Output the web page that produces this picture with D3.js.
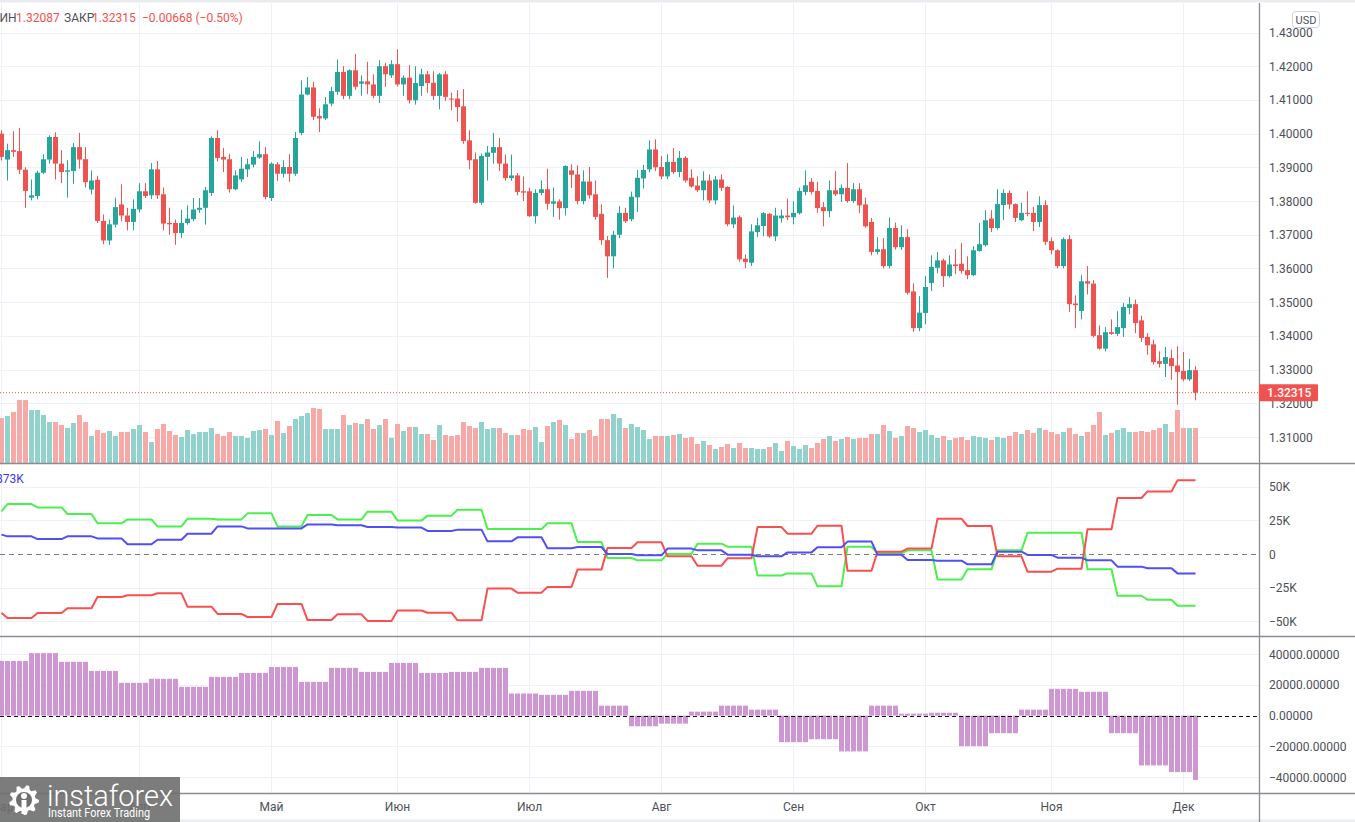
<!DOCTYPE html>
<html><head><meta charset="utf-8">
<script src="https://cdn.jsdelivr.net/npm/d3@7"></script>
<style>body{margin:0;background:#fff;overflow:hidden}svg{display:block}text{font-family:Roboto,"Liberation Sans",sans-serif}</style>
</head><body><svg id="c" width="1355" height="822"></svg>
<script>
// ---------- DATA (GBP/USD daily, 1 Mar – 3 Dec 2021) ----------
const opens=[1.4000,1.3923,1.3951,1.3948,1.3893,1.3810,1.3815,1.3884,1.3923,1.3990,
1.3911,1.3887,1.3889,1.3960,1.3924,1.3834,1.3863,1.3741,1.3683,1.3730,
1.3790,1.3757,1.3738,1.3775,1.3829,1.3817,1.3894,1.3820,1.3735,1.3735,
1.3705,1.3735,1.3746,1.3774,1.3780,1.3824,1.3987,1.3931,1.3924,1.3835,
1.3864,1.3894,1.3908,1.3929,1.3939,1.3809,1.3909,1.3881,1.3901,1.3881,
1.4002,1.4116,1.4137,1.4052,1.4045,1.4089,1.4124,1.4183,1.4112,1.4188,
1.4148,1.4155,1.4146,1.4112,1.4200,1.4173,1.4206,1.4146,1.4166,1.4099,
1.4141,1.4176,1.4151,1.4112,1.4176,1.4104,1.4104,1.4081,1.3980,1.3924,
1.3795,1.3931,1.3943,1.3960,1.3911,1.3868,1.3876,1.3829,1.3829,1.3755,
1.3824,1.3835,1.3792,1.3799,1.3779,1.3891,1.3879,1.3800,1.3858,1.3820,
1.3762,1.3684,1.3636,1.3700,1.3765,1.3746,1.3811,1.3867,1.3894,1.3953,
1.3901,1.3873,1.3916,1.3886,1.3928,1.3869,1.3846,1.3832,1.3861,1.3802,
1.3864,1.3842,1.3731,1.3752,1.3629,1.3617,1.3708,1.3726,1.3762,1.3695,
1.3749,1.3757,1.3752,1.3764,1.3827,1.3857,1.3830,1.3782,1.3770,1.3832,
1.3820,1.3839,1.3800,1.3835,1.3790,1.3738,1.3649,1.3657,1.3607,1.3720,
1.3663,1.3693,1.3532,1.3423,1.3468,1.3557,1.3602,1.3624,1.3577,1.3612,
1.3614,1.3595,1.3580,1.3652,1.3669,1.3748,1.3720,1.3788,1.3824,1.3791,
1.3743,1.3765,1.3765,1.3738,1.3788,1.3681,1.3654,1.3607,1.3687,1.3496,
1.3474,1.3562,1.3555,1.3402,1.3362,1.3411,1.3406,1.3423,1.3483,1.3494,
1.3446,1.3397,1.3375,1.3325,1.3317,1.3334,1.3312,1.3296,1.3271,1.32983];
const highs=[1.4010,1.3970,1.4007,1.4017,1.3900,1.3864,1.3890,1.3939,1.3995,1.4004,
1.3951,1.3921,1.3972,1.4002,1.3960,1.3891,1.3875,1.3760,1.3745,1.3810,
1.3850,1.3780,1.3805,1.3853,1.3853,1.3913,1.3919,1.3840,1.3780,1.3745,
1.3774,1.3787,1.3809,1.3809,1.3842,1.3992,1.4010,1.3957,1.3940,1.3891,
1.3931,1.3926,1.3948,1.3977,1.3960,1.3915,1.3915,1.3921,1.3939,1.4005,
1.4158,1.4168,1.4154,1.4075,1.4109,1.4139,1.4220,1.4200,1.4191,1.4236,
1.4173,1.4213,1.4176,1.4218,1.4210,1.4218,1.4250,1.4173,1.4203,1.4200,
1.4193,1.4186,1.4185,1.4180,1.4185,1.4122,1.4129,1.4132,1.4010,1.3944,
1.3941,1.3963,1.4002,1.3987,1.3938,1.3938,1.3883,1.3873,1.3840,1.3835,
1.3861,1.3896,1.3840,1.3805,1.3906,1.3909,1.3906,1.3891,1.3901,1.3861,
1.3790,1.3696,1.3712,1.3785,1.3780,1.3828,1.3892,1.3907,1.3980,1.3983,
1.3933,1.3939,1.3957,1.3948,1.3933,1.3894,1.3873,1.3888,1.3879,1.3874,
1.3879,1.3844,1.3787,1.3757,1.3642,1.3731,1.3750,1.3767,1.3765,1.3780,
1.3774,1.3807,1.3799,1.3840,1.3891,1.3868,1.3857,1.3797,1.3861,1.3889,
1.3849,1.3913,1.3853,1.3853,1.3810,1.3750,1.3693,1.3690,1.3751,1.3736,
1.3728,1.3716,1.3556,1.3518,1.3577,1.3639,1.3649,1.3629,1.3639,1.3657,
1.3676,1.3636,1.3666,1.3735,1.3773,1.3773,1.3835,1.3835,1.3832,1.3793,
1.3795,1.3829,1.3783,1.3814,1.3802,1.3692,1.3657,1.3692,1.3699,1.3520,
1.3580,1.3607,1.3565,1.3431,1.3426,1.3449,1.3473,1.3498,1.3515,1.3508,
1.3460,1.3408,1.3389,1.3354,1.3367,1.3359,1.3369,1.3352,1.3332,1.3310];
const lows=[1.3920,1.3861,1.3931,1.3880,1.3780,1.3802,1.3805,1.3880,1.3911,1.3864,
1.3853,1.3810,1.3851,1.3896,1.3840,1.3820,1.3735,1.3672,1.3670,1.3722,
1.3740,1.3713,1.3713,1.3766,1.3809,1.3806,1.3806,1.3713,1.3700,1.3670,
1.3690,1.3730,1.3740,1.3765,1.3730,1.3815,1.3918,1.3886,1.3825,1.3832,
1.3856,1.3871,1.3900,1.3925,1.3805,1.3800,1.3860,1.3870,1.3857,1.3875,
1.3995,1.4114,1.4040,1.4005,1.4040,1.4081,1.4115,1.4102,1.4102,1.4130,
1.4112,1.4117,1.4105,1.4091,1.4139,1.4165,1.4140,1.4112,1.4089,1.4086,
1.4112,1.4121,1.4100,1.4072,1.4097,1.4069,1.4035,1.3970,1.3894,1.3792,
1.3789,1.3861,1.3911,1.3889,1.3860,1.3860,1.3817,1.3800,1.3753,1.3733,
1.3817,1.3774,1.3753,1.3745,1.3757,1.3839,1.3790,1.3790,1.3807,1.3745,
1.3670,1.3572,1.3600,1.3690,1.3735,1.3740,1.3767,1.3837,1.3885,1.3889,
1.3865,1.3865,1.3880,1.3871,1.3855,1.3840,1.3827,1.3802,1.3794,1.3790,
1.3830,1.3725,1.3720,1.3620,1.3601,1.3607,1.3693,1.3696,1.3691,1.3681,
1.3736,1.3743,1.3731,1.3760,1.3817,1.3820,1.3765,1.3725,1.3752,1.3815,
1.3797,1.3795,1.3794,1.3764,1.3721,1.3639,1.3642,1.3600,1.3600,1.3656,
1.3655,1.3522,1.3412,1.3414,1.3434,1.3533,1.3585,1.3545,1.3573,1.3583,
1.3585,1.3568,1.3577,1.3650,1.3665,1.3708,1.3715,1.3743,1.3776,1.3738,
1.3740,1.3755,1.3711,1.3723,1.3669,1.3642,1.3600,1.3600,1.3471,1.3423,
1.3449,1.3523,1.3395,1.3359,1.3354,1.3403,1.3400,1.3397,1.3464,1.3408,
1.3382,1.3344,1.3315,1.3306,1.3278,1.3270,1.3196,1.3265,1.3266,1.32087];
const closes=[1.3931,1.3951,1.3946,1.3893,1.3830,1.3817,1.3884,1.3924,1.3990,1.3911,
1.3886,1.3891,1.3960,1.3923,1.3856,1.3861,1.3741,1.3683,1.3731,1.3782,
1.3757,1.3738,1.3777,1.3829,1.3815,1.3894,1.3817,1.3733,1.3731,1.3705,
1.3735,1.3748,1.3775,1.3780,1.3832,1.3987,1.3928,1.3923,1.3835,1.3876,
1.3896,1.3909,1.3931,1.3939,1.3812,1.3911,1.3881,1.3901,1.3881,1.3987,
1.4116,1.4137,1.4050,1.4045,1.4087,1.4126,1.4183,1.4112,1.4188,1.4139,
1.4155,1.4146,1.4112,1.4200,1.4176,1.4206,1.4146,1.4166,1.4099,1.4150,
1.4176,1.4150,1.4112,1.4176,1.4109,1.4102,1.4079,1.3978,1.3921,1.3795,
1.3934,1.3944,1.3960,1.3911,1.3868,1.3876,1.3827,1.3825,1.3755,1.3824,
1.3835,1.3792,1.3799,1.3779,1.3904,1.3878,1.3800,1.3858,1.3817,1.3753,
1.3684,1.3636,1.3700,1.3765,1.3740,1.3813,1.3869,1.3892,1.3953,1.3900,
1.3873,1.3916,1.3886,1.3928,1.3861,1.3843,1.3832,1.3861,1.3802,1.3864,
1.3839,1.3731,1.3751,1.3627,1.3619,1.3710,1.3728,1.3764,1.3695,1.3757,
1.3757,1.3752,1.3765,1.3830,1.3847,1.3827,1.3779,1.3770,1.3832,1.3820,
1.3839,1.3800,1.3835,1.3787,1.3725,1.3649,1.3657,1.3607,1.3720,1.3663,
1.3693,1.3528,1.3423,1.3469,1.3545,1.3605,1.3624,1.3577,1.3612,1.3607,
1.3593,1.3580,1.3654,1.3672,1.3743,1.3720,1.3791,1.3824,1.3790,1.3750,
1.3765,1.3762,1.3738,1.3788,1.3679,1.3654,1.3607,1.3687,1.3494,1.3491,
1.3562,1.3555,1.3400,1.3362,1.3411,1.3406,1.3426,1.3486,1.3494,1.3438,
1.3394,1.3372,1.3322,1.3317,1.3337,1.3310,1.3293,1.3271,1.32983,1.32315];
// tick volume (relative units)
const volumes=[45,47,51,63,63,53,53,48,41,41,
38,35,40,48,41,27,33,30,32,27,
31,31,34,38,31,21,34,39,32,28,
26,33,29,31,31,35,29,27,31,27,
27,25,32,33,34,28,42,30,37,44,
47,50,55,54,34,34,34,48,38,40,
39,44,34,38,44,25,39,32,36,36,
29,29,23,38,28,27,28,41,37,35,
41,34,35,35,30,28,28,34,33,36,
21,37,41,43,38,24,30,30,33,27,
44,44,49,45,35,39,36,33,24,27,
27,27,28,29,25,26,19,22,18,14,
16,19,15,20,15,15,14,14,16,20,
12,22,17,14,18,15,20,24,27,22,
24,26,24,25,25,29,29,38,32,25,
27,37,35,31,33,28,25,27,23,25,
26,23,27,26,25,23,26,25,27,31,
29,33,30,35,33,31,29,31,35,29,
27,31,38,51,28,30,33,35,31,31,
32,31,33,35,39,31,53,35,35,35];
// COT weekly net positions (thousands of contracts); first value = prior week
const cotGreen=[31.7, 37.1,34.6,29.7,22.8,25.7,20.5,26.2,25.7,30.2,20.5,29.0,25.7,31.4,24.8,28.5,32.9,18.6,18.6,22.8,8.9,-3.0,-4.7,0,7.7,5.4,-16.0,-14.4,-24.0,5.4,0.5,2.7,-19.0,-11.4,2.7,15.8,15.8,-11.4,-31.0,-34.0,-38.4];
const cotRed=[-43.8, -47.5,-43.8,-40.3,-31.9,-30.7,-29.2,-39.1,-44.5,-46.8,-37.1,-49.0,-44.8,-49.7,-42.0,-43.6,-49.3,-25.7,-28.7,-24.5,-11.6,4.5,8.7,-1.7,-8.7,-3.2,20.0,15.1,21.0,-12.4,1.7,4.0,26.2,20.8,-1.7,-13.1,-10.9,18.3,41.6,46.5,54.7];
const cotBlue=[14.4, 13.1,11.1,13.1,11.6,7.2,10.6,15.1,20.5,19.0,19.0,22.0,21.3,20.0,19.6,17.1,18.1,9.4,12.4,4.2,5.2,0,-1.0,4.0,2.7,-0.5,-1.7,1.2,5.0,9.2,-0.5,-4.5,-5.0,-7.7,1.7,-0.7,-2.7,-4.7,-9.4,-10.6,-14.4];
// weekly histogram (Mon–Fri weeks) and latest bar
const histWeekly=[35500,40600,34900,29000,21300,23900,18700,25200,27700,31600,21900,31000,28400,34200,27700,28400,31000,14400,13500,16100,6500,-6900,-5200,2600,6500,3900,-17200,-15300,-23200,6500,1300,1900,-19800,-11400,3900,17400,15500,-11400,-32300,-36600];
const histLatest=-41700;
const priceTicks=[1.31,1.32,1.33,1.34,1.35,1.36,1.37,1.38,1.39,1.40,1.41,1.42,1.43];
const cotTicks=[50000,25000,0,-25000,-50000];
const cotTickLabels=["50K","25K","0","\u221225K","\u221250K"];
const histTicks=[40000,20000,0,-20000,-40000];
const monthNames=["Янв","Фев","Мар","Апр","Май","Июн","Июл","Авг","Сен","Окт","Ноя","Дек"];
const lastPrice=1.32315;

// ---------- LAYOUT ----------
const svg=d3.select("#c");
const axisX=1259;
const n=opens.length;
const x=d3.scaleLinear().domain([0,n-1]).range([1,1+6*(n-1)]);
const yP=d3.scaleLinear().domain([1.31,1.43]).range([437,32.5]);
const yV=d3.scaleLinear().domain([0,100]).range([463,363]);
const yC=d3.scaleLinear().domain([-50000,50000]).range([621.3,486.7]);
const yH=d3.scaleLinear().domain([-40000,40000]).range([777.3,654]);

// dates: weekdays from 1 Mar 2021
const dates=[];{let d=new Date(2021,2,1);while(dates.length<n){const w=d.getDay();if(w>0&&w<6)dates.push(new Date(d));d=d3.timeDay.offset(d,1);}}
const monthStarts=[];dates.forEach((d,i)=>{if(i===0||d.getMonth()!==dates[i-1].getMonth())monthStarts.push({i,label:monthNames[d.getMonth()]});});

// background strips
svg.append("rect").attr("x",0).attr("y",0).attr("width",1355).attr("height",2.5).attr("fill","#e9ebf0");
svg.append("rect").attr("x",0).attr("y",819.5).attr("width",1355).attr("height",2.5).attr("fill","#eceef2");

const grid="#eef1f7";
// vertical grid
svg.append("g").selectAll("line").data(monthStarts).join("line")
  .attr("x1",d=>x(d.i)+0.5).attr("x2",d=>x(d.i)+0.5).attr("y1",3).attr("y2",793)
  .attr("stroke",grid).attr("stroke-width",1);
// horizontal grid main
svg.append("g").selectAll("line").data(priceTicks).join("line")
  .attr("x1",0).attr("x2",axisX).attr("y1",d=>Math.round(yP(d))+0.5).attr("y2",d=>Math.round(yP(d))+0.5)
  .attr("stroke",grid);
svg.append("g").selectAll("line").data(cotTicks.filter(d=>d!==0)).join("line")
  .attr("x1",0).attr("x2",axisX).attr("y1",d=>Math.round(yC(d))+0.5).attr("y2",d=>Math.round(yC(d))+0.5)
  .attr("stroke",grid);
svg.append("g").selectAll("line").data(histTicks.filter(d=>d!==0)).join("line")
  .attr("x1",0).attr("x2",axisX).attr("y1",d=>Math.round(yH(d))+0.5).attr("y2",d=>Math.round(yH(d))+0.5)
  .attr("stroke",grid);

const up="#26a69a", dn="#ef5350";
const idx=d3.range(n);
// volume
svg.append("g").selectAll("rect").data(idx).join("rect")
  .attr("x",i=>x(i)-2).attr("width",5)
  .attr("y",i=>yV(volumes[i])).attr("height",i=>yV(0)-yV(volumes[i]))
  .attr("fill",i=>closes[i]>=opens[i]?"#92d2cc":"#f7a9a7");
// candles
const cg=svg.append("g");
cg.selectAll("line").data(idx).join("line")
  .attr("x1",i=>x(i)+0.5).attr("x2",i=>x(i)+0.5)
  .attr("y1",i=>yP(highs[i])).attr("y2",i=>yP(lows[i]))
  .attr("stroke",i=>closes[i]>=opens[i]?up:dn).attr("stroke-width",1);
cg.selectAll("rect").data(idx).join("rect")
  .attr("x",i=>x(i)-2).attr("width",5)
  .attr("y",i=>yP(Math.max(opens[i],closes[i])))
  .attr("height",i=>Math.max(1,Math.abs(yP(opens[i])-yP(closes[i]))))
  .attr("fill",i=>closes[i]>=opens[i]?up:dn);
// last price dotted line
svg.append("line").attr("x1",0).attr("x2",axisX).attr("y1",yP(lastPrice)).attr("y2",yP(lastPrice))
  .attr("stroke",dn).attr("stroke-width",1).attr("stroke-dasharray","1,2");

// COT pane
svg.append("line").attr("x1",0).attr("x2",axisX).attr("y1",Math.round(yC(0))+0.5).attr("y2",Math.round(yC(0))+0.5)
  .attr("stroke","#787b86").attr("stroke-dasharray","5,4");
const weekOf=i=>i===0?0:Math.floor((i-1)/5)+1;
const lineGen=arr=>d3.line().x(i=>x(i)+0.5).y(i=>yC(arr[weekOf(i)]*1000))(idx);
[[cotGreen,"#4cf04c"],[cotRed,"#fa4f4f"],[cotBlue,"#4f4ff5"]].forEach(([a,c])=>{
  svg.append("path").attr("d",lineGen(a)).attr("fill","none").attr("stroke",c).attr("stroke-width",2).attr("stroke-linejoin","round");
});
svg.append("text").attr("x",-4).attr("y",483).attr("font-size",12).attr("fill","#3b3bf0").text("873K");

// histogram pane
const histVal=i=>i===n-1?histLatest:histWeekly[Math.floor(i/5)];
svg.append("g").selectAll("rect").data(idx).join("rect")
  .attr("x",i=>x(i)-2).attr("width",5)
  .attr("y",i=>Math.min(yH(0),yH(histVal(i))))
  .attr("height",i=>Math.abs(yH(0)-yH(histVal(i))))
  .attr("fill","#ce97d4");
svg.append("line").attr("x1",0).attr("x2",axisX).attr("y1",Math.round(yH(0))+0.5).attr("y2",Math.round(yH(0))+0.5)
  .attr("stroke","#111").attr("stroke-dasharray","4,3");

// separators
const sep="#8a8c94";
[463,636,793].forEach(y=>svg.append("line").attr("x1",0).attr("x2",1355).attr("y1",y+0.5).attr("y2",y+0.5).attr("stroke",sep).attr("stroke-width",1.3));
svg.append("line").attr("x1",axisX+0.5).attr("x2",axisX+0.5).attr("y1",3).attr("y2",822).attr("stroke",sep).attr("stroke-width",1.3);

// axis labels
const lab="#4e5058";
svg.append("g").selectAll("text").data(priceTicks).join("text")
  .attr("x",1269).attr("y",d=>yP(d)+4.5).attr("font-size",12).attr("fill",lab).text(d=>d.toFixed(5));
svg.append("g").selectAll("text").data(cotTicks).join("text")
  .attr("x",1269).attr("y",d=>yC(d)+4.5).attr("font-size",12).attr("fill",lab).text((d,k)=>cotTickLabels[k]);
svg.append("g").selectAll("text").data(histTicks).join("text")
  .attr("x",1269).attr("y",d=>yH(d)+4.5).attr("font-size",12).attr("fill",lab).text(d=>d.toFixed(5).replace("-","\u2212"));
svg.append("g").selectAll("text").data(monthStarts).join("text")
  .attr("x",d=>x(d.i)+0.5).attr("y",811).attr("text-anchor","middle").attr("font-size",12).attr("fill",lab).text(d=>d.label);

// last price label
svg.append("rect").attr("x",1259).attr("y",yP(lastPrice)-8.5).attr("width",59).attr("height",17).attr("rx",1).attr("fill",dn);
svg.append("text").attr("x",1267).attr("y",yP(lastPrice)+4.5).attr("font-size",12).attr("font-weight",500).attr("fill","#fff").text(lastPrice.toFixed(5));
// USD box
svg.append("rect").attr("x",1292.5).attr("y",11.5).attr("width",27).attr("height",16).attr("rx",3).attr("fill","#fff").attr("stroke","#cfd1d8");
svg.append("text").attr("x",1306).attr("y",23.5).attr("text-anchor","middle").attr("font-size",11).attr("fill",lab).text("USD");

// legend
const leg=svg.append("text").attr("y",22).attr("font-size",12);
leg.append("tspan").attr("x",-11).attr("fill",lab).text("МИН");
leg.append("tspan").attr("x",16).attr("fill",dn).text(lows[n-1].toFixed(5));
leg.append("tspan").attr("x",64).attr("fill",lab).text("ЗАКР");
leg.append("tspan").attr("x",92).attr("fill",dn).text(closes[n-1].toFixed(5));
const chg=closes[n-1]-closes[n-2];
leg.append("tspan").attr("x",142).attr("fill",dn).text(`${chg<0?"\u2212":"+"}${Math.abs(chg).toFixed(5)} (${chg<0?"\u2212":"+"}${Math.abs(chg/closes[n-2]*100).toFixed(2)}%)`);

// logo
const lg=svg.append("g");
lg.append("rect").attr("x",0).attr("y",777).attr("width",180).attr("height",45).attr("fill","#6e6e6e").attr("opacity",0.9);
const gc=[24,800], teeth=9, ro=15, ri=11.5;
const gp=d3.path();
for(let k=0;k<teeth*4;k++){const a=k/(teeth*4)*Math.PI*2;const r=(k%4<2)?ro:ri;const px=gc[0]+r*Math.cos(a),py=gc[1]+r*Math.sin(a);k?gp.lineTo(px,py):gp.moveTo(px,py);}
gp.closePath();
lg.append("path").attr("d",gp.toString()).attr("fill","#fff");
lg.append("circle").attr("cx",gc[0]).attr("cy",gc[1]).attr("r",8).attr("fill","#6e6e6e");
lg.append("circle").attr("cx",gc[0]).attr("cy",gc[1]-4).attr("r",3).attr("fill","#fff");
lg.append("rect").attr("x",gc[0]-2.5).attr("y",gc[1]).attr("width",5).attr("height",14).attr("fill","#fff");
lg.append("text").attr("x",47).attr("y",806).attr("font-size",30).attr("font-weight",300).attr("fill","#fff").attr("textLength",126).attr("lengthAdjust","spacingAndGlyphs").text("instaforex");
lg.append("text").attr("x",48).attr("y",817).attr("font-size",12).attr("fill","#fff").attr("textLength",102).attr("lengthAdjust","spacingAndGlyphs").text("Instant Forex Trading");
</script></body></html>
